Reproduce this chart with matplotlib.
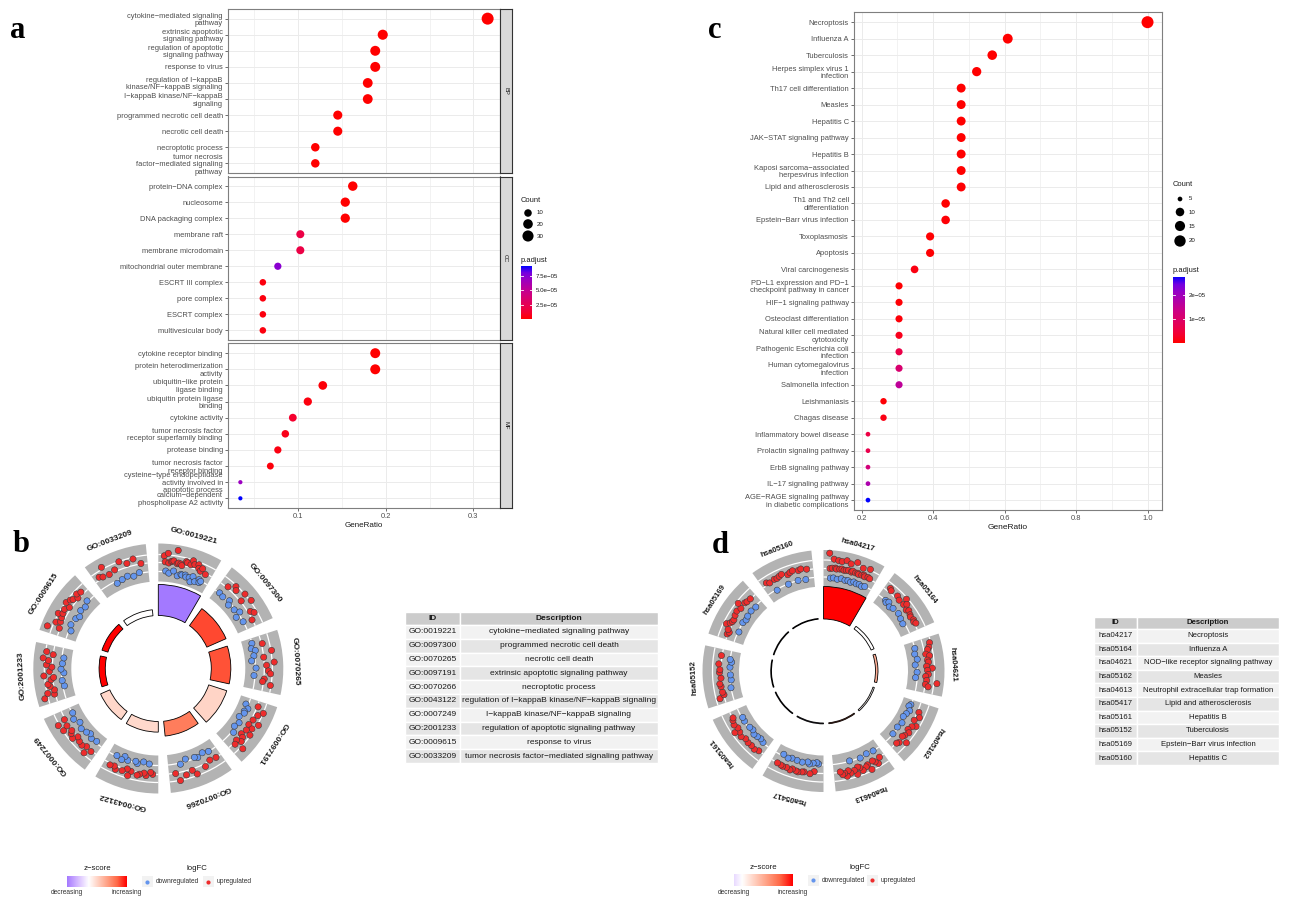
import numpy as np
import matplotlib
matplotlib.use("Agg")
import matplotlib.pyplot as plt
from matplotlib.colors import LinearSegmentedColormap, Normalize
from matplotlib.patches import Wedge, Rectangle, Arc
from matplotlib.ticker import MultipleLocator

plt.rcParams["font.family"] = ["Liberation Sans", "DejaVu Sans"]

# ---------------- GO dot plot (a) ----------------
bp_terms = ["cytokine−mediated signaling\npathway", "extrinsic apoptotic\nsignaling pathway",
            "regulation of apoptotic\nsignaling pathway", "response to virus",
            "regulation of I−kappaB\nkinase/NF−kappaB signaling", "I−kappaB kinase/NF−kappaB\nsignaling",
            "programmed necrotic cell death", "necrotic cell death", "necroptotic process",
            "tumor necrosis\nfactor−mediated signaling\npathway"]
bp_ratio = ["37/117", "23/117", "22/117", "22/117", "21/117", "21/117", "17/117", "17/117", "14/117", "14/117"]
bp_count = [37, 23, 22, 22, 21, 21, 17, 17, 14, 14]
bp_padj = [1e-17, 1e-12, 2e-7, 2e-7, 3e-9, 5e-9, 1.4e-13, 6e-13, 5e-11, 2.5e-7]

cc_terms = ["protein−DNA complex", "nucleosome", "DNA packaging complex", "membrane raft",
            "membrane microdomain", "mitochondrial outer membrane", "ESCRT III complex",
            "pore complex", "ESCRT complex", "multivesicular body"]
cc_ratio = ["19/117", "18/117", "18/117", "12/117", "12/117", "9/117", "7/117", "7/117", "7/117", "7/117"]
cc_count = [19, 18, 18, 12, 12, 9, 7, 7, 7, 7]
cc_padj = [2.4e-7, 3.1e-7, 3.1e-7, 1.9e-5, 1.9e-5, 7.4e-5, 3.5e-6, 3.5e-6, 3.5e-6, 3.5e-6]

mf_terms = ["cytokine receptor binding", "protein heterodimerization\nactivity",
            "ubiquitin−like protein\nligase binding", "ubiquitin protein ligase\nbinding",
            "cytokine activity", "tumor necrosis factor\nreceptor superfamily binding",
            "protease binding", "tumor necrosis factor\nreceptor binding",
            "cysteine−type endopeptidase\nactivity involved in\napoptotic process",
            "calcium−dependent\nphospholipase A2 activity"]
mf_ratio = ["22/117", "22/117", "15/117", "13/117", "11/117", "10/117", "9/117", "8/117", "4/117", "4/117"]
mf_count = [22, 22, 15, 13, 11, 10, 9, 8, 4, 4]
mf_padj = [1.1e-8, 1.1e-8, 2.0e-6, 3.5e-6, 1.1e-5, 6.0e-6, 4.0e-6, 2.8e-6, 6.8e-5, 9.2e-5]

# ---------------- KEGG dot plot (c) ----------------
kegg_terms = ["Necroptosis", "Influenza A", "Tuberculosis", "Herpes simplex virus 1\ninfection",
              "Th17 cell differentiation", "Measles", "Hepatitis C", "JAK−STAT signaling pathway",
              "Hepatitis B", "Kaposi sarcoma−associated\nherpesvirus infection",
              "Lipid and atherosclerosis", "Th1 and Th2 cell\ndifferentiation",
              "Epstein−Barr virus infection", "Toxoplasmosis", "Apoptosis", "Viral carcinogenesis",
              "PD−L1 expression and PD−1\ncheckpoint pathway in cancer", "HIF−1 signaling pathway",
              "Osteoclast differentiation", "Natural killer cell mediated\ncytotoxicity",
              "Pathogenic Escherichia coli\ninfection", "Human cytomegalovirus\ninfection",
              "Salmonella infection", "Leishmaniasis", "Chagas disease", "Inflammatory bowel disease",
              "Prolactin signaling pathway", "ErbB signaling pathway", "IL−17 signaling pathway",
              "AGE−RAGE signaling pathway\nin diabetic complications"]
kegg_count = [23, 14, 13, 12, 11, 11, 11, 11, 11, 11, 11, 10, 10, 9, 9, 8, 7, 7, 7, 7, 7, 7, 7,
              6, 6, 5, 5, 5, 5, 5]
kegg_ratio = ["%d/23" % k for k in kegg_count]
kegg_padj = [1e-15, 1e-9, 1e-8, 1e-7, 1e-9, 2e-9, 3e-9, 4e-9, 5e-9, 6e-8, 3e-7, 1e-8, 5e-7,
             2e-7, 3e-7, 1.2e-6, 3e-7, 4e-7, 6e-7, 2e-6, 6e-6, 1.05e-5, 1.55e-5, 4e-7, 1.4e-6,
             5.5e-6, 6.5e-6, 1.2e-5, 1.8e-5, 2.75e-5]

# ---------------- GO circle (b) ----------------
go_ids = ["GO:0019221", "GO:0097300", "GO:0070265", "GO:0097191", "GO:0070266",
          "GO:0043122", "GO:0007249", "GO:2001233", "GO:0009615", "GO:0033209"]
go_desc = ["cytokine−mediated signaling pathway", "programmed necrotic cell death",
           "necrotic cell death", "extrinsic apoptotic signaling pathway", "necroptotic process",
           "regulation of I−kappaB kinase/NF−kappaB signaling", "I−kappaB kinase/NF−kappaB signaling",
           "regulation of apoptotic signaling pathway", "response to virus",
           "tumor necrosis factor−mediated signaling pathway"]
go_padj = [1e-17, 1.4e-13, 6e-13, 1e-12, 5e-11, 3e-9, 5e-9, 2e-7, 2e-7, 2.5e-7]
go_zscore = [-1.15, 1.65, 1.6, 0.45, 1.3, 0.4, 0.42, 2.0, 2.0, 0.0]
go_lfc = [
    [2.5, 1.2, -0.8, 3.1, 1.0, -1.2, 1.4, 1.5, 1.6, -0.6, 4.0, 1.1, 1.3, -1.5, 1.2, 0.9, -1.0, -1.1, 2.0,
     1.8, -0.9, -1.3, 1.6, 2.6, -1.2, 1.9, -2.0, -0.7, 2.2, 1.4, -1.6, 1.0, 1.7, -0.8, -1.4, -1.0, 0.8],
    [-0.9, 1.3, -1.1, 2.5, 1.9, -0.7, -1.5, 2.8, 1.2, -1.2, 3.0, -0.5, -1.8, 1.5, 2.1, -1.0, 0.9],
    [-1.0, 1.2, -1.4, -0.6, 2.9, -1.1, 1.0, -1.7, 3.2, 1.5, -0.8, 1.9, 2.4, -1.2, 1.1, 0.8, 2.6],
    [1.2, -1.5, 2.8, -0.7, 1.9, -1.2, -1.0, 1.4, 3.0, -1.6, 1.1, 2.2, -0.9, 1.3, 2.6, -1.3, 0.9, 1.6,
     -0.6, 2.0, 1.0, 3.3, 1.4],
    [1.0, -1.0, 0.8, -1.4, 1.6, -0.9, -1.2, 2.4, 1.3, -1.5, 1.9, -0.7, 2.8, 1.1],
    [1.0, 0.6, -1.2, 1.4, 0.9, -1.5, 1.3, 1.6, -0.9, -1.3, 1.1, 2.2, 0.8, -1.0, 1.5, -1.6, -0.7, 1.8,
     1.2, -1.1, 1.4],
    [1.2, -1.3, 2.4, 1.0, -1.0, 1.5, -1.6, 1.3, -1.2, 0.9, 2.0, -0.8, 1.6, 1.1, -1.4, 2.6, 1.4, -0.6,
     3.0, 1.2, -1.1],
    [3.5, 1.2, 2.6, 1.0, -1.3, 1.8, 2.2, -1.0, 1.4, 0.8, 2.9, -1.5, 1.6, -0.9, 1.1, 2.3, -1.2, 1.9,
     3.1, -1.4, 1.0, 2.5],
    [3.8, 1.2, -1.4, 2.4, 1.5, -0.8, 1.7, 2.8, 1.9, -1.1, 2.1, -1.6, 1.4, 2.6, -1.0, 2.2, 1.8, -1.3,
     1.2, 2.0, -0.7, 1.6],
    [1.6, 1.2, 3.2, 1.0, -1.5, 1.4, -1.2, 2.7, -0.9, 1.8, -1.3, 2.4, -0.8, 1.1],
]

# ---------------- KEGG circle (d) ----------------
ks_ids = ["hsa04217", "hsa05164", "hsa04621", "hsa05162", "hsa04613",
          "hsa05417", "hsa05161", "hsa05152", "hsa05169", "hsa05160"]
ks_desc = ["Necroptosis", "Influenza A", "NOD−like receptor signaling pathway", "Measles",
           "Neutrophil extracellular trap formation", "Lipid and atherosclerosis", "Hepatitis B",
           "Tuberculosis", "Epstein−Barr virus infection", "Hepatitis C"]
ks_padj = [1e-15, 5.8e-7, 1.0e-6, 2.0e-6, 2.8e-6, 3.0e-6, 3.1e-6, 3.2e-6, 3.1e-6, 3.2e-6]
ks_zscore = [3.8, 0.0, 1.6, 0.1, 2.6, -0.6, -0.5, -0.2, -0.1, -0.3]
ks_lfc = [
    [4.5, 1.0, -1.2, 1.1, 3.2, -1.1, 1.2, 1.0, 3.0, -1.3, 1.1, 2.9, 1.2, -1.0, 1.0, 3.3, 1.1, -1.2,
     1.2, 2.8, -1.1, 1.0, 1.3, -1.3, 3.5, 1.1, -1.0, 1.2, 1.0, -1.2, 2.7, 1.1, -1.1, 1.3, 1.0, -1.3,
     3.1, 1.2, -1.0, 1.1],
    [1.8, 1.5, -1.0, -1.3, -0.8, 1.6, -1.5, 1.2, -1.1, 2.6, 1.3, 1.9, -0.9, 1.0, 1.4, -1.2, 1.1, 0.9,
     -1.4, 1.2, 1.0, 1.3],
    [2.6, -1.0, 2.2, 1.8, -1.3, 1.2, 2.0, -0.9, 1.4, 1.6, -1.5, 1.1, 2.4, 1.3, -1.1, 1.5, 0.9, -1.4,
     1.2, 3.6, 1.0, 1.7],
    [-1.1, -1.4, 1.3, -0.8, 1.9, -1.2, 1.1, -1.5, 2.2, 1.4, -1.0, 1.0, 1.6, -1.3, 1.2, 0.9, 2.6, -1.1,
     1.3, 1.0],
    [1.0, -1.0, 2.1, 1.4, 0.9, -1.2, 2.6, 1.2, 1.5, -0.9, 2.0, 1.1, 0.8, 2.4, 1.3, -1.1, 1.7, 1.0,
     2.2, 1.4, 1.6, 0.9],
    [-1.2, -1.5, 0.6, -1.3, 1.2, -1.0, -1.4, 1.0, 1.1, -1.1, 1.3, 1.2, -1.2, 1.0, 1.4, -1.3, 1.1,
     -1.0, 1.2, 1.1, -1.4, 1.0],
    [1.0, -1.1, 1.4, -1.4, 1.2, -1.2, 1.3, -1.0, 1.1, -1.5, 1.6, -1.3, 1.2, 2.2, 1.0, -1.1, 1.4,
     -1.2, 1.1, 0.8],
    [2.0, 0.9, 1.1, -1.0, 1.2, 1.4, -1.3, 1.0, -1.2, 1.3, 1.2, -1.1, 1.5, -1.4, -1.0, 1.1],
    [1.1, 0.8, 1.3, -1.2, 2.2, 1.5, 1.2, 1.1, -1.0, 1.4, -1.3, 1.6, -1.1, 1.2, 2.4, -1.0, 1.3, 1.1,
     -1.2, 1.0],
    [1.5, 1.1, -1.2, 1.3, 1.2, 1.4, 1.6, -1.1, 1.0, 1.3, 1.5, -1.0, 1.2, 1.4, -1.2, 1.1],
]

W, H = 1290, 900
fig = plt.figure(figsize=(W / 100, H / 100), dpi=100)


def px_axes(x0, y0, x1, y1):
    return fig.add_axes([x0 / W, 1 - y1 / H, (x1 - x0) / W, (y1 - y0) / H])


# overlay in pixel units for letters, legends and tables
ov = px_axes(0, 0, W, H)
ov.set_xlim(0, W)
ov.set_ylim(H, 0)
ov.axis("off")

padj_cmap = LinearSegmentedColormap.from_list(
    "padj", [(0, "#FF0000"), (0.125, "#F40031"), (0.25, "#E80050"), (0.5, "#CA0089"),
             (0.75, "#9A00C3"), (0.875, "#7400E1"), (1, "#0000FF")])
zsc_cmap = LinearSegmentedColormap.from_list(
    "zsc", [(0, "#0000FF"), (0.125, "#7E51FF"), (0.25, "#B38BFF"), (0.375, "#DCC4FF"),
            (0.5, "#FFFFFF"), (0.625, "#FFCFBF"), (0.75, "#FF9E81"), (0.875, "#FF6846"),
            (1, "#FF0000")])
UP, DOWN = "#EE2C2C", "#6495ED"
TXT = "#4D4D4D"


def ratio(vals):
    return np.array([int(a) / int(b) for a, b in (v.split("/") for v in vals)])


def make_sizer(cmin, cmax, d0, d1):
    def f(c):
        frac = np.sqrt((np.asarray(c, float) - cmin) / (cmax - cmin))
        return ((d0 + (d1 - d0) * frac) * 0.72) ** 2
    return f


def dot_panel(ax, terms, ratios, counts, padj, norm, sizer, xlim, fs, show_x):
    n = len(terms)
    y = np.arange(n, 0, -1)
    ax.set_axisbelow(True)
    ax.scatter(ratios, y, s=sizer(counts), c=padj, cmap=padj_cmap, norm=norm,
               linewidths=0, zorder=3)
    ax.set_xlim(*xlim)
    ax.set_ylim(0.4, n + 0.6)
    ax.set_yticks(y)
    ax.set_yticklabels(terms, fontsize=fs, color=TXT, linespacing=1.1)
    ax.grid(True, which="major", color="#EBEBEB", lw=0.7)
    ax.grid(True, which="minor", axis="x", color="#EBEBEB", lw=0.45)
    ax.tick_params(axis="both", which="major", length=2.2, width=0.5, color="#333333", pad=1.5,
                   labelsize=fs, labelcolor=TXT)
    ax.tick_params(axis="x", which="minor", length=0)
    if not show_x:
        ax.tick_params(axis="x", which="both", bottom=False, labelbottom=False)
    for s in ax.spines.values():
        s.set_color("#7F7F7F")
        s.set_linewidth(0.8)


# ---- panel a
all_ratio = np.concatenate([ratio(bp_ratio), ratio(cc_ratio), ratio(mf_ratio)])
all_padj = np.array(bp_padj + cc_padj + mf_padj)
all_count = bp_count + cc_count + mf_count
span = all_ratio.max() - all_ratio.min()
xlim_a = (all_ratio.min() - 0.05 * span, all_ratio.max() + 0.05 * span)
norm_a = Normalize(all_padj.min(), all_padj.max())
size_a = make_sizer(min(all_count), max(all_count), 4.2, 12.0)

facets = [(bp_terms, bp_ratio, bp_count, bp_padj, "BP", 9, 173),
          (cc_terms, cc_ratio, cc_count, cc_padj, "CC", 176.5, 340),
          (mf_terms, mf_ratio, mf_count, mf_padj, "MF", 343.5, 508)]
for k, (terms, rr, cnt, pa, lab, y0, y1) in enumerate(facets):
    ax = px_axes(228, y0, 500, y1)
    ax.xaxis.set_major_locator(MultipleLocator(0.1))
    ax.xaxis.set_minor_locator(MultipleLocator(0.05))
    dot_panel(ax, terms, ratio(rr), cnt, pa, norm_a, size_a, xlim_a, 5.4, k == 2)
    if k == 2:
        ax.set_xlabel("GeneRatio", fontsize=5.8, color="#1A1A1A", labelpad=1.5)
    st = px_axes(500, y0, 511.5, y1)
    st.set_xticks([])
    st.set_yticks([])
    st.set_facecolor("#D9D9D9")
    for s in st.spines.values():
        s.set_color("#333333")
        s.set_linewidth(0.8)
    st.text(0.5, 0.5, lab, rotation=-90, ha="center", va="center", fontsize=4.2,
            color="#1A1A1A", transform=st.transAxes)

# ---- panel c
kr = ratio(kegg_ratio)
span = kr.max() - kr.min()
xlim_c = (kr.min() - 0.05 * span, kr.max() + 0.05 * span)
norm_c = Normalize(min(kegg_padj), max(kegg_padj))
size_c = make_sizer(min(kegg_count), max(kegg_count), 4.7, 12.0)
axc = px_axes(854, 12.3, 1161.5, 510)
axc.xaxis.set_major_locator(MultipleLocator(0.2))
axc.xaxis.set_minor_locator(MultipleLocator(0.1))
dot_panel(axc, kegg_terms, kr, kegg_count, kegg_padj, norm_c, size_c, xlim_c, 5.4, True)
axc.set_xlabel("GeneRatio", fontsize=6, color="#1A1A1A", labelpad=1.5)


def size_legend(x, ys, counts, sizer, title_y, lab_x, fs=5.0):
    ov.text(x - 7, title_y, "Count", fontsize=fs + 0.4, color="#1A1A1A", va="center")
    ov.scatter([x] * len(ys), ys, s=sizer(counts), c="black", linewidths=0)
    for yy, c in zip(ys, counts):
        ov.text(lab_x, yy, str(c), fontsize=fs - 0.6, color="#1A1A1A", va="center")


def padj_bar(x0, y0, x1, y1, norm, ticks, labels, title_y):
    ov.text(x0, title_y, "p.adjust", fontsize=5.4, color="#1A1A1A", va="center")
    cax = px_axes(x0, y0, x1, y1)
    grad = np.linspace(norm.vmin, norm.vmax, 256)[:, None]
    cax.imshow(grad, cmap=padj_cmap, norm=norm, aspect="auto", origin="lower",
               extent=[0, 1, norm.vmin, norm.vmax])
    for t in ticks:
        cax.plot([0, 0.2], [t, t], color="white", lw=0.6)
        cax.plot([0.8, 1], [t, t], color="white", lw=0.6)
    cax.set_xlim(0, 1)
    cax.set_ylim(norm.vmin, norm.vmax)
    cax.set_xticks([])
    cax.yaxis.tick_right()
    cax.set_yticks(ticks)
    cax.set_yticklabels(labels, fontsize=4.4, color="#1A1A1A")
    cax.tick_params(length=0, pad=2.5)
    for s in cax.spines.values():
        s.set_visible(False)


size_legend(528, [213, 224, 236], [10, 20, 30], size_a, 201, 537)
padj_bar(521, 266, 532, 319, norm_a, [2.5e-5, 5.0e-5, 7.5e-5],
         ["2.5e−05", "5.0e−05", "7.5e−05"], 260)
size_legend(1180, [199, 212, 226, 241], [5, 10, 15, 20], size_c, 184, 1189)
padj_bar(1173, 277, 1185, 343, norm_c, [1e-5, 2e-5], ["1e−05", "2e−05"], 270)


# ---- circle plots
def go_circle(cx, cy, ids, padj, zscore, lfc, r_base, h0, r_top, r_in, r_out, grid_r, r_lab, fs):
    R = 150
    ax = px_axes(cx - R, cy - R, cx + R, cy + R)
    ax.set_xlim(-R, R)
    ax.set_ylim(R, -R)
    ax.set_aspect("equal")
    ax.axis("off")
    n = len(ids)
    step = 360 / n
    width = step * 0.84
    zs = np.array(zscore)
    znorm = Normalize(-np.abs(zs).max(), np.abs(zs).max())
    lp = -np.log10(np.array(padj))
    hts = h0 + (lp - lp.min()) / (lp.max() - lp.min()) * (r_top - r_base - h0)
    for i in range(n):
        a1, a2 = i * step, i * step + width
        ax.add_patch(Wedge((0, 0), r_out, a1 - 90, a2 - 90, width=r_out - r_in,
                           fc="#B3B3B3", ec="none"))
        for gr in grid_r:
            ax.add_patch(Arc((0, 0), 2 * gr, 2 * gr, theta1=a1 - 90, theta2=a2 - 90,
                             color="white", lw=0.9))
        vals = np.array(lfc[i])
        ang = np.radians(np.linspace(a1 + 0.1 * width, a2 - 0.12 * width, len(vals)))
        rr = r_in + 3.0 + (vals + 2.5) / 7.0 * (r_out - r_in - 6)
        cols = [UP if v > 0 else DOWN for v in vals]
        ax.scatter(rr * np.sin(ang), -rr * np.cos(ang), s=20, c=cols,
                   edgecolors="#3A3A3A", linewidths=0.4, zorder=3)
        ax.add_patch(Wedge((0, 0), r_base + hts[i], a1 - 90, a2 - 90, width=hts[i],
                           fc=zsc_cmap(znorm(zs[i])), ec="black", lw=0.6))
        mid = (a1 + a2) / 2
        m = np.radians(mid)
        ax.text(r_lab * np.sin(m), -r_lab * np.cos(m), ids[i], rotation=-mid,
                rotation_mode="anchor", ha="center", va="center", fontsize=fs,
                fontweight="bold", color="#1A1A1A")
    return znorm, zs


def circle_legend(zx0, zx1, zy0, zy1, znorm, zs, title_y, lab_y, lfc_x, key_blue, key_red):
    ov.text((zx0 + zx1) / 2, title_y, "z−score", ha="center", va="center", fontsize=5.6,
            color="#1A1A1A")
    cax = px_axes(zx0, zy0, zx1, zy1)
    cax.imshow(np.linspace(zs.min(), zs.max(), 256)[None, :], cmap=zsc_cmap, norm=znorm,
               aspect="auto")
    cax.axis("off")
    ov.text(zx0, lab_y, "decreasing", ha="center", va="center", fontsize=4.8, color="#333333")
    ov.text(zx1, lab_y, "increasing", ha="center", va="center", fontsize=4.8, color="#333333")
    ov.text(lfc_x, title_y, "logFC", ha="center", va="center", fontsize=5.6, color="#1A1A1A")
    yk = (zy0 + zy1) / 2
    for kx, col, lab in [(key_blue, DOWN, "downregulated"), (key_red, UP, "upregulated")]:
        ov.add_patch(Rectangle((kx - 5.5, yk - 5.5), 11, 11, fc="#F2F2F2", ec="none"))
        ov.scatter([kx], [yk], s=9, c=col, linewidths=0)
        ov.text(kx + 9, yk, lab, va="center", fontsize=4.8, color="#333333")


zn_b, zs_b = go_circle(158.3, 668.5, go_ids, go_padj, go_zscore, go_lfc, 53, 6, 84, 87, 125,
                       [97, 106, 114], 137, 6.0)
zn_d, zs_d = go_circle(823.5, 671, ks_ids, ks_padj, ks_zscore, ks_lfc, 52, 0.8, 84.5, 84.5, 121,
                       [94, 102.5, 111], 130, 5.6)
circle_legend(67, 127, 876, 887, zn_b, zs_b, 869, 893, 196.5, 147, 208)
circle_legend(734, 793, 874, 886, zn_d, zs_d, 867.5, 892, 860, 813, 872)


# ---- tables
def draw_table(x0, xs, x1, y0, hh, rh, ids, descs, fs):
    for a, b, lab in [(x0, xs, "ID"), (xs, x1, "Description")]:
        ov.add_patch(Rectangle((a, y0), b - a, hh, fc="#CCCCCC", ec="white", lw=1))
        ov.text((a + b) / 2, y0 + hh / 2, lab, ha="center", va="center", fontsize=fs,
                fontweight="bold", color="#1A1A1A")
    for i, (gid, d) in enumerate(zip(ids, descs)):
        top = y0 + hh + i * rh
        fc = "#F2F2F2" if i % 2 == 0 else "#E5E5E5"
        for a, b, lab in [(x0, xs, gid), (xs, x1, d)]:
            ov.add_patch(Rectangle((a, top), b - a, rh, fc=fc, ec="white", lw=1))
            ov.text((a + b) / 2, top + rh / 2, lab, ha="center", va="center", fontsize=fs,
                    color="#1A1A1A")


draw_table(405, 460, 658, 612, 13, 13.8, go_ids, go_desc, 6.0)
draw_table(1094, 1137, 1279, 617, 12, 13.6, ks_ids, ks_desc, 5.6)

# ---- panel letters
for lab, x, y in [("a", 18, 38), ("b", 21, 552), ("c", 715, 38), ("d", 720, 553)]:
    ov.text(x, y, lab, ha="center", va="baseline", fontsize=22, fontweight="bold",
            family="Liberation Serif", color="black")

fig.savefig("out.png", dpi=100)
